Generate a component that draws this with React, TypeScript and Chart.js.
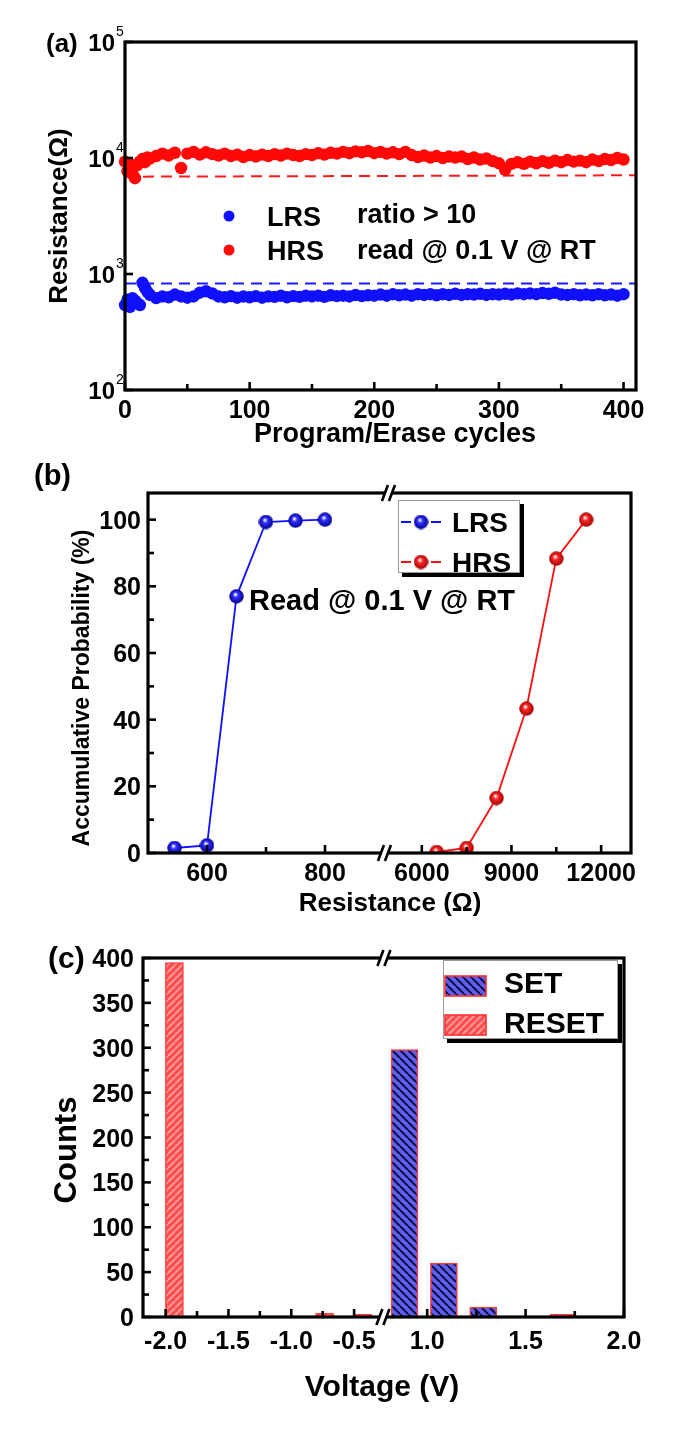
import React, { useEffect, useRef } from 'react';
import { Chart, registerables } from 'chart.js';

Chart.register(...registerables);

const FAMILY = '"Liberation Sans", Arial, Helvetica, sans-serif';
const W = 685;

// ---------------- (a) Program/Erase endurance ----------------
const cycles = [0, 2, 4, 6, 8, 10, 12, 14, 16, 18, 20, 25, 30, 35, 40, 45, 50, 55, 60, 65, 70, 75, 80, 85, 90, 95,
  100, 105, 110, 115, 120, 125, 130, 135, 140, 145, 150, 155, 160, 165, 170, 175, 180, 185, 190, 195,
  200, 205, 210, 215, 220, 225, 230, 235, 240, 245, 250, 255, 260, 265, 270, 275, 280, 285, 290, 295,
  300, 305, 310, 315, 320, 325, 330, 335, 340, 345, 350, 355, 360, 365, 370, 375, 380, 385, 390, 395, 400];
const hrsCycleRes = [9300, 7700, 8900, 7300, 6700, 8700, 9300, 9800, 9200, 10100, 9900, 10400, 10900, 10500, 11100, 8200, 10900, 11300, 10700, 11200, 10800, 10500, 10900, 10400, 10700, 10200,
  10600, 10300, 10700, 10400, 10800, 10500, 10900, 10600, 10400, 10800, 10600, 11000, 10700, 11100, 10900, 11300, 11000, 11400, 11200, 11500,
  11000, 11300, 10900, 11200, 10800, 11300, 10600, 10200, 10500, 10100, 10400, 10000, 10300, 10100, 10300, 9800, 10100, 9700, 9900, 9400,
  9000, 7900, 8900, 9200, 8900, 9300, 9000, 9400, 9100, 9500, 9200, 9600, 9300, 9500, 9200, 9700, 9400, 9800, 9600, 10000, 9700];
const lrsCycleRes = [540, 600, 520, 620, 590, 560, 540, 840, 760, 700, 660, 620, 640, 630, 665, 640, 625, 640, 690, 710, 680, 640, 630, 645, 625, 640,
  630, 645, 625, 640, 635, 650, 630, 645, 635, 650, 640, 650, 635, 655, 645, 650, 640, 660, 645, 655,
  650, 665, 650, 670, 655, 665, 650, 670, 660, 670, 655, 670, 660, 675, 660, 670, 665, 675, 660, 670,
  665, 675, 665, 680, 670, 680, 670, 685, 675, 690, 665, 660, 670, 655, 665, 655, 670, 655, 665, 650, 670];
const limitCycles = [0, 410];
const lrsLimit = [830, 830];
const hrsLimit = [6900, 7100];
const aXMajor = [0, 100, 200, 300, 400];
const aXMinor = [50, 150, 250, 350];
const aYMajor = [100, 1000, 10000, 100000];
const aYExponent = ['2', '3', '4', '5'];
const aLegend = ['LRS', 'HRS'];
const aNotes = ['ratio > 10', 'read @ 0.1 V @ RT'];

// ---------------- (b) Cumulative probability ----------------
const lrsRes = [545, 600, 650, 700, 750, 800];
const lrsProb = [1.5, 2.3, 77, 99.3, 99.7, 100];
const hrsRes = [6500, 7500, 8500, 9500, 10500, 11500];
const hrsProb = [0.3, 1.5, 16.5, 43.3, 88.3, 100];
const bXMajor = [600, 800, 6000, 9000, 12000];
const bXMinor = [700, 7500, 10500];
const bYMajor = [0, 20, 40, 60, 80, 100];
const bYMinor = [10, 30, 50, 70, 90];
const bLeftRange = [500, 900];
const bRightRange = [5000, 13000];

// ---------------- (c) Switching voltage histogram ----------------
const setVolt = [0.885, 1.085, 1.285];
const setCounts = [298, 60, 11];
const resetVoltNeg = [-1.93, -0.735, -0.43];
const resetCountsNeg = [395, 4, 3];
const resetVoltPos = [1.685, 1.81];
const resetCountsPos = [3, 1];
const cXMajor = [-2.0, -1.5, -1.0, -0.5, 1.0, 1.5, 2.0];
const cXMinor = [-1.75, -1.25, -0.75, 1.25, 1.75];
const cYMajor = [0, 50, 100, 150, 200, 250, 300, 350, 400];
const cYMinor = [25, 75, 125, 175, 225, 275, 325, 375];
const cLeftRange = [-2.18, -0.27];
const cRightRange = [0.8, 2.0];

// broken axis: value -> fraction of axis
type Seg = { from: number; to: number; start: number; end: number };
const bSegs: Seg[] = [
  { from: bLeftRange[0], to: bLeftRange[1], start: 0, end: 0.4886 },
  { from: bRightRange[0], to: bRightRange[1], start: 0.505, end: 1 },
];
const cSegs: Seg[] = [
  { from: cLeftRange[0], to: cLeftRange[1], start: 0, end: 0.499 },
  { from: cRightRange[0], to: cRightRange[1], start: 0.509, end: 1 },
];
function mapBroken(segs: Seg[], v: number) {
  const s = v <= segs[0].to + 1e-9 ? segs[0] : segs[1];
  return s.start + ((v - s.from) / (s.to - s.from)) * (s.end - s.start);
}

// ---------------- drawing helpers ----------------
function text(ctx: CanvasRenderingContext2D, s: string, x: number, y: number, size: number,
  align: CanvasTextAlign = 'center', rot = 0, bold = true) {
  ctx.save();
  ctx.font = `${bold ? 'bold ' : ''}${size}px ${FAMILY}`;
  ctx.fillStyle = '#000';
  ctx.textAlign = align;
  ctx.textBaseline = 'alphabetic';
  ctx.translate(x, y);
  if (rot) ctx.rotate(rot);
  ctx.fillText(s, 0, size * 0.36);
  ctx.restore();
}
function frame(ctx: CanvasRenderingContext2D, ca: any) {
  ctx.save();
  ctx.strokeStyle = '#000';
  ctx.lineWidth = 3.2;
  ctx.strokeRect(ca.left, ca.top, ca.right - ca.left, ca.bottom - ca.top);
  ctx.restore();
}
function tickX(ctx: CanvasRenderingContext2D, px: number, bottom: number, len: number) {
  ctx.save();
  ctx.strokeStyle = '#000';
  ctx.lineWidth = 2.6;
  ctx.beginPath();
  ctx.moveTo(px, bottom);
  ctx.lineTo(px, bottom - len);
  ctx.stroke();
  ctx.restore();
}
function tickY(ctx: CanvasRenderingContext2D, left: number, py: number, len: number) {
  ctx.save();
  ctx.strokeStyle = '#000';
  ctx.lineWidth = 2.6;
  ctx.beginPath();
  ctx.moveTo(left, py);
  ctx.lineTo(left + len, py);
  ctx.stroke();
  ctx.restore();
}
function breakMark(ctx: CanvasRenderingContext2D, x: number, y: number) {
  ctx.save();
  ctx.fillStyle = '#fff';
  ctx.beginPath();
  ctx.moveTo(x - 7, y + 7);
  ctx.lineTo(x - 2, y - 7);
  ctx.lineTo(x + 4, y - 7);
  ctx.lineTo(x - 1, y + 7);
  ctx.closePath();
  ctx.fill();
  ctx.strokeStyle = '#000';
  ctx.lineWidth = 2.6;
  ctx.beginPath();
  ctx.moveTo(x - 8, y + 8);
  ctx.lineTo(x - 2, y - 8);
  ctx.moveTo(x - 1, y + 8);
  ctx.lineTo(x + 5, y - 8);
  ctx.stroke();
  ctx.restore();
}
function legendBox(ctx: CanvasRenderingContext2D, x: number, y: number, w: number, h: number) {
  ctx.save();
  ctx.fillStyle = '#000';
  ctx.fillRect(x + 4, y + 4, w, h);
  ctx.fillStyle = '#fff';
  ctx.fillRect(x, y, w, h);
  ctx.strokeStyle = '#9a9a9a';
  ctx.lineWidth = 1;
  ctx.strokeRect(x + 0.5, y + 0.5, w - 1, h - 1);
  ctx.restore();
}
function makeBall(core: string, dark: string) {
  const d = 15;
  const c = document.createElement('canvas');
  c.width = d;
  c.height = d;
  const g = c.getContext('2d')!;
  const grad = g.createRadialGradient(d * 0.42, d * 0.36, 0.5, d / 2, d / 2, d / 2);
  grad.addColorStop(0, '#ffffff');
  grad.addColorStop(0.3, core);
  grad.addColorStop(1, dark);
  g.fillStyle = grad;
  g.beginPath();
  g.arc(d / 2, d / 2, d / 2 - 0.3, 0, Math.PI * 2);
  g.fill();
  return c;
}
function makeHatch(ctx: CanvasRenderingContext2D, bg: string, line: string, down: boolean, period: number, lw: number) {
  const c = document.createElement('canvas');
  c.width = period;
  c.height = period;
  const g = c.getContext('2d')!;
  g.fillStyle = bg;
  g.fillRect(0, 0, period, period);
  g.strokeStyle = line;
  g.lineWidth = lw;
  g.beginPath();
  for (const k of [-period, 0, period]) {
    if (down) {
      g.moveTo(k, 0);
      g.lineTo(k + period, period);
    } else {
      g.moveTo(k, period);
      g.lineTo(k + period, 0);
    }
  }
  g.stroke();
  return ctx.createPattern(c, 'repeat')!;
}

const baseOptions = (padding: any) => ({
  animation: false as const,
  responsive: false,
  maintainAspectRatio: false,
  events: [] as any[],
  layout: { padding },
  plugins: { legend: { display: false }, tooltip: { enabled: false } },
});

// ---------------- chart builders ----------------
function buildA(canvas: HTMLCanvasElement) {
  const plugin = {
    id: 'panelA',
    afterDraw(chart: any) {
      const { ctx, chartArea: ca, scales } = chart;
      const x = scales.x, y = scales.y;
      frame(ctx, ca);
      aXMajor.forEach((v) => tickX(ctx, x.getPixelForValue(v), ca.bottom, 8));
      aXMinor.forEach((v) => tickX(ctx, x.getPixelForValue(v), ca.bottom, 6));
      aYMajor.forEach((v) => tickY(ctx, ca.left, y.getPixelForValue(v), 8));
      aXMajor.forEach((v) => text(ctx, String(v), x.getPixelForValue(v), 409, 25));
      aYMajor.forEach((v, i) => {
        const py = y.getPixelForValue(v);
        text(ctx, '10', 115, py, 24, 'right');
        text(ctx, aYExponent[i], 116, py - 11, 14, 'left', 0, false);
      });
      text(ctx, 'Program/Erase cycles', 395, 432, 27);
      text(ctx, 'Resistance(\u03A9)', 58, 216, 26, 'center', -Math.PI / 2);
      text(ctx, '(a)', 46, 43, 26, 'left');
      // legend
      const cols = ['#1010ff', '#ff0808'];
      [216, 250].forEach((ly, i) => {
        ctx.save();
        ctx.fillStyle = cols[i];
        ctx.beginPath();
        ctx.arc(229, ly, 5.5, 0, Math.PI * 2);
        ctx.fill();
        ctx.restore();
        text(ctx, aLegend[i], 267, ly, 27, 'left');
        text(ctx, aNotes[i], 357, ly - (i === 0 ? 3 : 1), 27, 'left');
      });
    },
  };
  return new Chart(canvas, {
    type: 'scatter',
    data: {
      datasets: [
        {
          data: cycles.map((c, i) => ({ x: c, y: lrsCycleRes[i] })),
          pointRadius: 6.2, pointBackgroundColor: '#1010ff', pointBorderWidth: 0, showLine: false, clip: false as any,
        },
        {
          data: cycles.map((c, i) => ({ x: c, y: hrsCycleRes[i] })),
          pointRadius: 6.2, pointBackgroundColor: '#ff0808', pointBorderWidth: 0, showLine: false, clip: false as any,
        },
        {
          data: limitCycles.map((c, i) => ({ x: c, y: lrsLimit[i] })),
          showLine: true, borderColor: '#1a1aff', borderWidth: 2, borderDash: [11, 7], pointRadius: 0,
        },
        {
          data: limitCycles.map((c, i) => ({ x: c, y: hrsLimit[i] })),
          showLine: true, borderColor: '#ff1a1a', borderWidth: 2, borderDash: [11, 7], pointRadius: 0,
        },
      ],
    },
    options: {
      ...baseOptions({ left: 125, top: 42, right: W - 636, bottom: 70 }),
      scales: {
        x: { type: 'linear', min: 0, max: 410, display: false },
        y: { type: 'logarithmic', min: 100, max: 100000, display: false },
      },
    } as any,
    plugins: [plugin],
  });
}

function buildB(canvas: HTMLCanvasElement) {
  const blueBall = makeBall('#3030ff', '#00008a');
  const redBall = makeBall('#ff2a2a', '#9a0000');
  const plugin = {
    id: 'panelB',
    afterDraw(chart: any) {
      const { ctx, chartArea: ca, scales } = chart;
      const x = scales.x, y = scales.y;
      frame(ctx, ca);
      bXMajor.forEach((v) => tickX(ctx, x.getPixelForValue(mapBroken(bSegs, v)), ca.bottom, 8));
      bXMinor.forEach((v) => tickX(ctx, x.getPixelForValue(mapBroken(bSegs, v)), ca.bottom, 6));
      bYMajor.forEach((v) => tickY(ctx, ca.left, y.getPixelForValue(v), 8));
      bYMinor.forEach((v) => tickY(ctx, ca.left, y.getPixelForValue(v), 6));
      bXMajor.forEach((v) => text(ctx, String(v), x.getPixelForValue(mapBroken(bSegs, v)), 412, 25));
      bYMajor.forEach((v) => text(ctx, String(v), 141, y.getPixelForValue(v), 25, 'right'));
      const bx = x.getPixelForValue(0.4968);
      breakMark(ctx, bx + 2, ca.top);
      breakMark(ctx, bx - 2, ca.bottom);
      text(ctx, 'Resistance (\u03A9)', 390, 442, 26);
      text(ctx, 'Accumulative Probability (%)', 81, 228, 23, 'center', -Math.PI / 2);
      text(ctx, '(b)', 34, 15, 29, 'left');
      text(ctx, 'Read @ 0.1 V @ RT', 249, 140, 29, 'left');
      // legend
      legendBox(ctx, 398, 40, 122, 73);
      const cols = ['#1010ff', '#ff1010'];
      const balls = [blueBall, redBall];
      const labels = ['LRS', 'HRS'];
      [62, 102].forEach((ly, i) => {
        ctx.save();
        ctx.strokeStyle = cols[i];
        ctx.lineWidth = 2;
        ctx.beginPath();
        ctx.moveTo(401, ly);
        ctx.lineTo(411, ly);
        ctx.moveTo(431, ly);
        ctx.lineTo(441, ly);
        ctx.stroke();
        ctx.drawImage(balls[i], 421 - 7.5, ly - 7.5);
        ctx.restore();
        text(ctx, labels[i], 452, ly, 28, 'left');
      });
    },
  };
  return new Chart(canvas, {
    type: 'scatter',
    data: {
      datasets: [
        {
          data: lrsRes.map((r, i) => ({ x: mapBroken(bSegs, r), y: lrsProb[i] })),
          showLine: true, borderColor: '#1010ff', borderWidth: 1.8, pointStyle: blueBall as any, pointRadius: 7.5,
        },
        {
          data: hrsRes.map((r, i) => ({ x: mapBroken(bSegs, r), y: hrsProb[i] })),
          showLine: true, borderColor: '#ff1010', borderWidth: 1.8, pointStyle: redBall as any, pointRadius: 7.5,
        },
      ],
    },
    options: {
      ...baseOptions({ left: 148, top: 33, right: W - 631, bottom: 470 - 393 }),
      scales: {
        x: { type: 'linear', min: 0, max: 1, display: false },
        y: { type: 'linear', min: 0, max: 108, display: false },
      },
    } as any,
    plugins: [plugin],
  });
}

function buildC(canvas: HTMLCanvasElement) {
  const ctx0 = canvas.getContext('2d')!;
  const setFill = makeHatch(ctx0, '#5e5ef0', '#101040', true, 8, 2);
  const resetFill = makeHatch(ctx0, '#ff4d4d', '#ff9a9a', false, 7, 2);
  const plugin = {
    id: 'panelC',
    afterDraw(chart: any) {
      const { ctx, chartArea: ca, scales } = chart;
      const x = scales.x, y = scales.y;
      frame(ctx, ca);
      cXMajor.forEach((v) => tickX(ctx, x.getPixelForValue(mapBroken(cSegs, v)), ca.bottom, 8));
      cXMinor.forEach((v) => tickX(ctx, x.getPixelForValue(mapBroken(cSegs, v)), ca.bottom, 6));
      cYMajor.forEach((v) => tickY(ctx, ca.left, y.getPixelForValue(v), 8));
      cYMinor.forEach((v) => tickY(ctx, ca.left, y.getPixelForValue(v), 6));
      cXMajor.forEach((v) => text(ctx, v.toFixed(1), x.getPixelForValue(mapBroken(cSegs, v)), 410, 25));
      cYMajor.forEach((v) => text(ctx, String(v), 134, y.getPixelForValue(v), 25, 'right'));
      const bx = x.getPixelForValue(0.504);
      breakMark(ctx, bx, ca.top);
      breakMark(ctx, bx - 1, ca.bottom);
      text(ctx, 'Voltage (V)', 382, 455, 30);
      text(ctx, 'Counts', 65, 220, 31, 'center', -Math.PI / 2);
      text(ctx, '(c)', 48, 27, 30, 'left');
      // legend
      legendBox(ctx, 443, 30, 175, 79);
      const fills = [setFill, resetFill];
      const labels = ['SET', 'RESET'];
      [[46, 52], [85, 92]].forEach(([py, ty], i) => {
        ctx.save();
        ctx.fillStyle = fills[i];
        ctx.fillRect(445, py, 41, 20);
        ctx.strokeStyle = '#ff3030';
        ctx.lineWidth = 1.6;
        ctx.strokeRect(445, py, 41, 20);
        ctx.restore();
        text(ctx, labels[i], 504, ty, 30, 'left');
      });
    },
  };
  const barCommon = { borderColor: '#ff3a3a', borderWidth: 1.5, grouped: false, borderSkipped: 'bottom' };
  return new Chart(canvas, {
    type: 'bar',
    data: {
      datasets: [
        {
          label: 'SET',
          data: setVolt.map((v, i) => ({ x: mapBroken(cSegs, v), y: setCounts[i] })),
          backgroundColor: setFill as any, barThickness: 27, ...barCommon,
        },
        {
          label: 'RESET',
          data: resetVoltNeg.map((v, i) => ({ x: mapBroken(cSegs, v), y: resetCountsNeg[i] })),
          backgroundColor: resetFill as any, barThickness: 18, ...barCommon,
        },
        {
          label: 'RESET',
          data: resetVoltPos.map((v, i) => ({ x: mapBroken(cSegs, v), y: resetCountsPos[i] })),
          backgroundColor: resetFill as any, barThickness: 24, ...barCommon,
        },
      ],
    } as any,
    options: {
      ...baseOptions({ left: 143, top: 28, right: W - 624, bottom: 514 - 387 }),
      scales: {
        x: { type: 'linear', min: 0, max: 1, offset: false, display: false },
        y: { type: 'linear', min: 0, max: 400, display: false },
      },
    } as any,
    plugins: [plugin],
  });
}

function Panel({ top, height, build }: { top: number; height: number; build: (c: HTMLCanvasElement) => Chart }) {
  const ref = useRef<HTMLCanvasElement>(null);
  useEffect(() => {
    const chart = build(ref.current!);
    return () => chart.destroy();
  }, [build]);
  return (
    <canvas
      ref={ref}
      width={W}
      height={height}
      style={{ position: 'absolute', left: 0, top, width: W, height, display: 'block' }}
    />
  );
}

export default function App() {
  return (
    <div style={{ position: 'absolute', left: 0, top: 0, width: W, height: 1444, background: '#fff', overflow: 'hidden' }}>
      <Panel top={0} height={460} build={buildA} />
      <Panel top={460} height={470} build={buildB} />
      <Panel top={930} height={514} build={buildC} />
    </div>
  );
}
